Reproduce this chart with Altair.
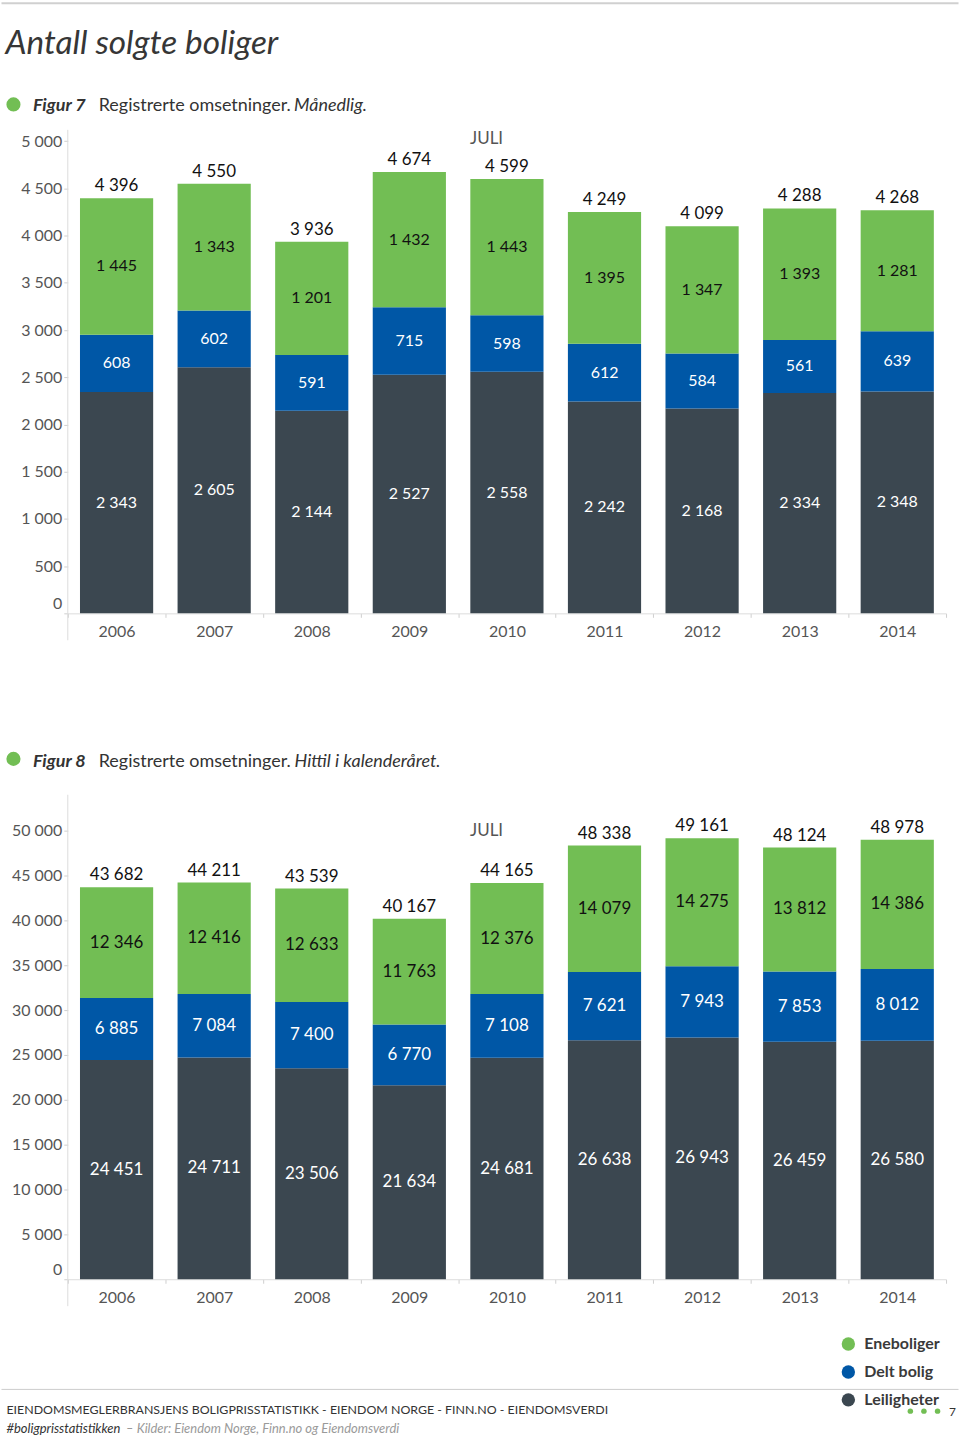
import altair as alt
import pandas as pd

# ---------------- data ----------------
years = ["2006", "2007", "2008", "2009", "2010", "2011", "2012", "2013", "2014"]
categories = ["Eneboliger", "Delt bolig", "Leiligheter"]
colors = ["#72BE54", "#0057A6", "#3B4750"]

# Figur 7 - monthly (July)
mnd_leiligheter = [2343, 2605, 2144, 2527, 2558, 2242, 2168, 2334, 2348]
mnd_delt = [608, 602, 591, 715, 598, 612, 584, 561, 639]
mnd_ene = [1445, 1343, 1201, 1432, 1443, 1395, 1347, 1393, 1281]

# Figur 8 - year to date
hittil_leiligheter = [24451, 24711, 23506, 21634, 24681, 26638, 26943, 26459, 26580]
hittil_delt = [6885, 7084, 7400, 6770, 7108, 7621, 7943, 7853, 8012]
hittil_ene = [12346, 12416, 12633, 11763, 12376, 14079, 14275, 13812, 14386]

ticks_mnd = [0, 500, 1000, 1500, 2000, 2500, 3000, 3500, 4000, 4500, 5000]
ticks_hittil = [0, 5000, 10000, 15000, 20000, 25000, 30000, 35000, 40000, 45000, 50000]

juli_year = ["2010"]
juli_text = ["JULI"]

FONT = "Lato"
PLOT_W = 881
OX = 66.5  # page x of plot origin


def long_table(leil, delt, ene):
    rows = []
    for i, yr in enumerate(years):
        for cat, vals, rank in (("Leiligheter", leil, 0), ("Delt bolig", delt, 1), ("Eneboliger", ene, 2)):
            rows.append({"year": yr, "cat": cat, "rank": rank, "v": vals[i]})
    return pd.DataFrame(rows)


one = pd.DataFrame({"k": [0]})


def txt(s, x, y, size, color="#333333", style="normal", weight="normal", align="left", baseline="alphabetic"):
    return alt.Chart(one).mark_text(
        text=s, font=FONT, fontSize=size, fontStyle=style, fontWeight=weight,
        color=color, align=align, baseline=baseline
    ).encode(x=alt.value(x), y=alt.value(y))


def dot(x, y, size, color):
    return alt.Chart(one).mark_point(filled=True, shape="circle", size=size, color=color, opacity=1).encode(
        x=alt.value(x), y=alt.value(y))


def hrule(x1, x2, y, color, width):
    return alt.Chart(one).mark_rule(color=color, strokeWidth=width).encode(
        x=alt.value(x1), x2=alt.value(x2), y=alt.value(y))


def panel(df, ymax, height, ticks, seg_size, juli_y, legend, extras):
    yscale = alt.Scale(domain=[0, ymax], nice=False, zero=True)
    xaxis = alt.Axis(title=None, labelAngle=0, tickBand="extent", domainColor="#dcdcdc",
                     tickColor="#cfcfcf", tickSize=4, labelColor="#555555", labelFont=FONT,
                     labelFontSize=16, labelPadding=6)
    yaxis = alt.Axis(title=None, values=ticks,
                     labelExpr="replace(format(datum.value, ','), ',', ' ')",
                     domain=False, grid=False, tickSize=4, tickColor="#cfcfcf",
                     labelColor="#555555", labelFont=FONT, labelFontSize=16, labelPadding=2,
                     labelOffset={"condition": {"test": "datum.value === 0", "value": -10}, "value": 0})
    xscale = alt.Scale(paddingInner=0, paddingOuter=0)

    def X():
        return alt.X("year:N", sort=years, scale=xscale, axis=xaxis)

    stacked = alt.Chart(df).transform_stack(
        stack="v", groupby=["year"], sort=[alt.SortField("rank", order="ascending")], as_=["y0", "y1"]
    ).transform_calculate(
        mid="(datum.y0 + datum.y1) / 2",
        lbl="replace(format(datum.v, ','), ',', ' ')",
    )
    bars = stacked.mark_bar(width={"band": 0.75}).encode(
        x=X(),
        y=alt.Y("y0:Q", scale=yscale, axis=yaxis),
        y2="y1:Q",
        color=alt.Color("cat:N", scale=alt.Scale(domain=categories, range=colors), legend=legend),
    )
    seg = stacked.mark_text(font=FONT, fontSize=seg_size).encode(
        x=X(),
        y=alt.Y("mid:Q", scale=yscale, axis=yaxis),
        text="lbl:N",
        color=alt.condition(alt.datum.cat == "Eneboliger", alt.value("#111111"), alt.value("#ffffff")),
    )
    totals = alt.Chart(df).transform_aggregate(
        total="sum(v)", groupby=["year"]
    ).transform_calculate(
        lbl="replace(format(datum.total, ','), ',', ' ')"
    ).mark_text(font=FONT, fontSize=17, color="#111111", dy=-12).encode(
        x=X(), y=alt.Y("total:Q", scale=yscale, axis=yaxis), text="lbl:N"
    )
    juli = alt.Chart(pd.DataFrame({"year": juli_year, "t": juli_text})).mark_text(
        font=FONT, fontSize=17, color="#555555", align="left", dx=-37
    ).encode(x=X(), y=alt.value(juli_y), text="t:N")
    yline = alt.Chart(one).mark_rule(color="#dcdcdc", strokeWidth=1).encode(
        x=alt.value(0), y=alt.value(0), y2=alt.value(height + 27))
    return alt.layer(bars, seg, totals, juli, yline, *extras).properties(width=PLOT_W, height=height)


# ---------------- decorations ----------------
top_extras = [
    hrule(-OX, 960 - OX, -127, "#d0d0d0", 2),
    txt("Antall solgte boliger", 4 - OX, -75.7, 33.5, color="#363636", style="italic"),
    dot(12 - OX, -25.5, 200, colors[0]),
    txt("Figur 7", 31.5 - OX, -19, 18, style="italic", weight="bold"),
    txt("Registrerte omsetninger.", 97.5 - OX, -19, 18),
    txt("Månedlig.", 293.5 - OX, -19, 18, style="italic"),
]

bottom_extras = [
    dot(12 - OX, -36, 200, colors[0]),
    txt("Figur 8", 31.5 - OX, -28, 18, style="italic", weight="bold"),
    txt("Registrerte omsetninger.", 97.5 - OX, -28, 18),
    txt("Hittil i kalenderåret.", 294 - OX, -28, 18, style="italic"),
    hrule(-OX, 960 - OX, 596.5, "#cccccc", 1),
    txt("EIENDOMSMEGLERBRANSJENS BOLIGPRISSTATISTIKK - EIENDOM NORGE - FINN.NO - EIENDOMSVERDI",
        5 - OX, 621.5, 12.4),
    txt("#boligprisstatistikken", 5 - OX, 640, 13, style="italic"),
    txt("– Kilder: Eiendom Norge, Finn.no og Eiendomsverdi", 125 - OX, 640, 13, color="#9a9a9a", style="italic"),
    dot(911.7 - OX, 618.3, 30, colors[0]),
    dot(925.3 - OX, 618.3, 30, colors[0]),
    dot(939 - OX, 618.3, 30, colors[0]),
    txt("7", 954 - OX, 619, 12, align="center", baseline="middle"),
]

legend2 = alt.Legend(
    title=None, orient="none", legendX=775, legendY=543, direction="vertical",
    symbolType="circle", symbolSize=180, symbolStrokeWidth=0, symbolOpacity=1,
    labelFont=FONT, labelFontSize=16, labelFontWeight="bold", labelColor="#3a3a3a",
    rowPadding=12, labelOffset=8, padding=0,
)

top = panel(long_table(mnd_leiligheter, mnd_delt, mnd_ene), 5120, 485, ticks_mnd, 16, 9, None, top_extras)
bottom = panel(long_table(hittil_leiligheter, hittil_delt, hittil_ene), 54000, 486, ticks_hittil, 17, 36,
               legend2, bottom_extras)

chart = alt.vconcat(top, bottom, spacing=182, bounds="flush").resolve_scale(
    color="independent"
).resolve_legend(color="independent").properties(padding=0, background="white").configure_view(stroke=None)

chart.save("out.html", embed_options={"renderer": "svg", "actions": False})
